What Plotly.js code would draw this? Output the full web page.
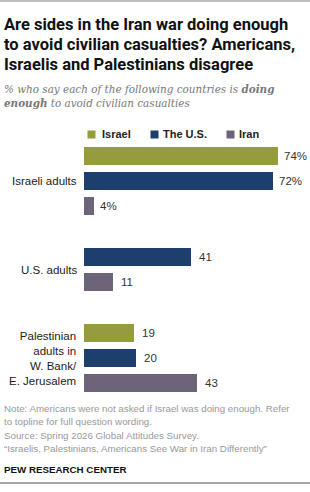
<!DOCTYPE html>
<html>
<head>
<meta charset="utf-8">
<script src="https://cdn.plot.ly/plotly-3.0.1.min.js"></script>
<style>
  html, body { margin: 0; padding: 0; background: #fff; }
  #chart { width: 310px; height: 492px; }
</style>
</head>
<body>
<div id="chart"></div>
<script>
// Respondent groups (row labels) and the share saying each country is doing enough
const groupLabels = ['Israeli adults', 'U.S. adults', 'Palestinian<br>adults in<br>W. Bank/<br>E. Jerusalem'];
const seriesNames = ['Israel', 'The U.S.', 'Iran'];
const israelValues = [74, null, 19];   // Americans were not asked about Israel
const usValues = [72, 41, 20];
const iranValues = [4, 11, 43];
const seriesColors = ['#949c3e', '#1c3f6e', '#6e6479'];

const titleLines = [
  'Are sides in the Iran war doing enough',
  'to avoid civilian casualties? Americans,',
  'Israelis and Palestinians disagree'
];
const subtitleLines = [
  '% who say each of the following countries is <b>doing</b>',
  '<b>enough</b> to avoid civilian casualties'
];
const noteLines = [
  'Note: Americans were not asked if Israel was doing enough. Refer',
  'to topline for full question wording.',
  'Source: Spring 2026 Global Attitudes Survey.',
  '\u201cIsraelis, Palestinians, Americans See War in Iran Differently\u201d'
];

const seriesValues = [israelValues, usValues, iranValues];

// Page geometry (pixels)
const W = 310, H = 492;
const M = { l: 84, r: 10, t: 143, b: 96 };
const plotW = W - M.l - M.r;
const plotH = H - M.t - M.b;
const fx = px => (px - M.l) / plotW;
const fy = py => 1 - (py - M.t) / plotH;

// Assign each bar a row slot: bars of a group stack downward, one blank slot between groups
const slots = seriesValues.map(() => groupLabels.map(() => null));
const groupCenters = [];
let slot = 0;
groupLabels.forEach((g, gi) => {
  const used = [];
  seriesValues.forEach((vals, si) => {
    if (vals[gi] !== null) { slots[si][gi] = slot; used.push(slot); slot++; }
  });
  groupCenters.push((used[0] + used[used.length - 1]) / 2);
  slot++;
});
const lastSlot = slot - 2;

const traces = seriesValues.map((vals, si) => {
  const xs = [], ys = [];
  vals.forEach((v, gi) => { if (v !== null) { xs.push(v); ys.push(slots[si][gi]); } });
  return {
    type: 'bar', orientation: 'h', name: seriesNames[si],
    x: xs, y: ys, width: 0.71,
    marker: { color: seriesColors[si] },
    hoverinfo: 'skip', showlegend: false
  };
});

const annotations = [];
const sans = 'Liberation Sans, Arial, sans-serif';

// Value labels next to each bar; the first group carries the % sign
seriesValues.forEach((vals, si) => {
  vals.forEach((v, gi) => {
    if (v === null) return;
    annotations.push({
      x: v, y: slots[si][gi], xref: 'x', yref: 'y',
      text: gi === 0 ? v + '%' : String(v),
      showarrow: false, xanchor: 'left', yanchor: 'middle', xshift: gi === 0 ? 4 : 6,
      font: { family: sans, size: 11.5, color: '#333' }
    });
  });
});

// Group labels to the left of the bars
groupLabels.forEach((g, gi) => {
  annotations.push({
    x: fx(79), y: groupCenters[gi], xref: 'paper', yref: 'y',
    text: g, showarrow: false, xanchor: 'right', yanchor: 'middle', align: 'right',
    font: { family: sans, size: 11.5, color: '#222' }
  });
});

// Legend row
const legendSwatchX = [91.5, 154.5, 230];
const legendTextX = [100, 161, 237];
seriesNames.forEach((n, si) => {
  annotations.push({
    x: fx(legendSwatchX[si]), y: fy(134), xref: 'paper', yref: 'paper',
    text: ' ', showarrow: false, width: 7, height: 7, borderpad: 0,
    bgcolor: seriesColors[si], xanchor: 'center', yanchor: 'middle'
  });
  annotations.push({
    x: fx(legendTextX[si]), y: fy(134), xref: 'paper', yref: 'paper',
    text: '<b>' + n + '</b>', showarrow: false, xanchor: 'left', yanchor: 'middle',
    font: { family: sans, size: 11, color: '#222' }
  });
});

// Text blocks placed one line at a time
function addLines(lines, firstY, step, font) {
  lines.forEach((t, i) => {
    annotations.push({
      x: fx(2), y: fy(firstY + i * step), xref: 'paper', yref: 'paper',
      text: t, showarrow: false, xanchor: 'left', yanchor: 'middle', align: 'left',
      font: font
    });
  });
}
addLines(titleLines.map(t => '<b>' + t + '</b>'), 24.5, 20,
  { family: 'Roboto, Liberation Sans, sans-serif', size: 16.5, color: '#111' });
addLines(subtitleLines.map(t => '<i>' + t + '</i>'), 89, 13.5,
  { family: 'DejaVu Serif, Georgia, serif', size: 10.4, color: '#777' });
addLines(noteLines, 408, 13.6,
  { family: sans, size: 9.75, color: '#999' });
addLines(['<b>PEW RESEARCH CENTER</b>'], 469, 0,
  { family: sans, size: 9.75, color: '#111' });

const layout = {
  width: W, height: H,
  margin: M,
  paper_bgcolor: '#fff', plot_bgcolor: '#fff',
  showlegend: false,
  bargap: 0,
  xaxis: { range: [0, plotW / 2.62], visible: false, fixedrange: true },
  yaxis: { range: [lastSlot + 0.5, -0.5], visible: false, fixedrange: true },
  annotations: annotations,
  shapes: [
    { type: 'line', xref: 'paper', yref: 'paper', x0: fx(0), x1: fx(310), y0: fy(1), y1: fy(1), line: { color: '#aaa', width: 1.5 } },
    { type: 'line', xref: 'paper', yref: 'paper', x0: fx(0), x1: fx(310), y0: fy(483), y1: fy(483), line: { color: '#888', width: 1.5 } }
  ]
};

Plotly.newPlot('chart', traces, layout, { displayModeBar: false, staticPlot: true });
</script>
</body>
</html>
